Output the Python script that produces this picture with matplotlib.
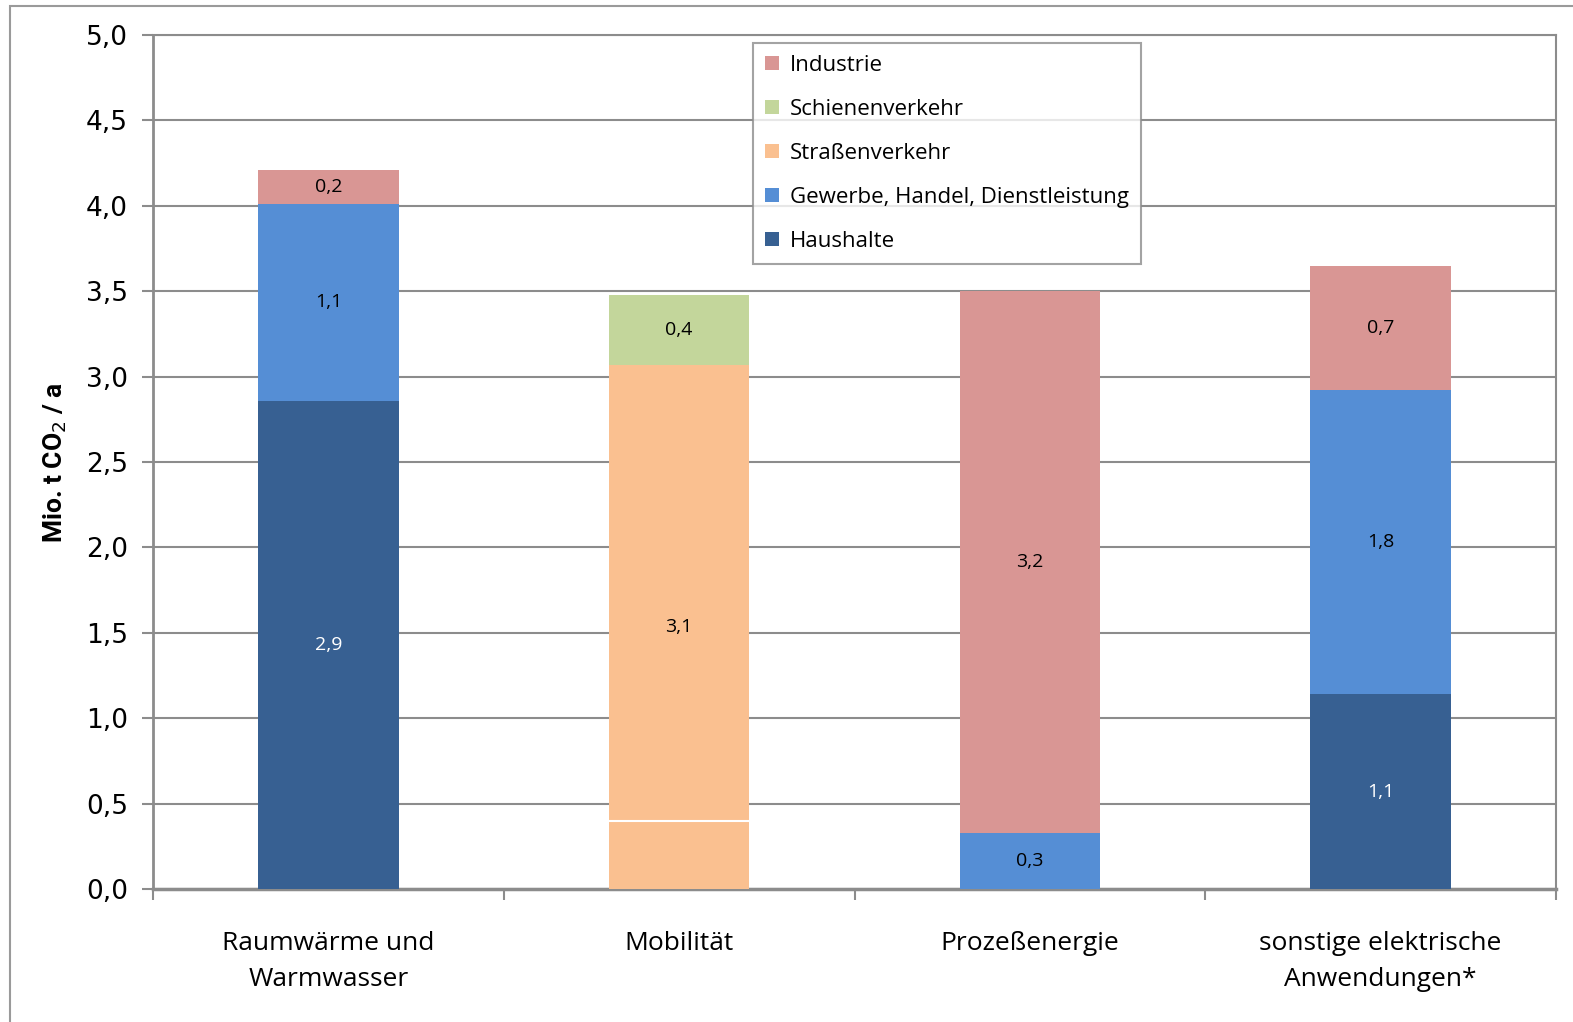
import numpy as np
import matplotlib.pyplot as plt
from matplotlib.patches import Rectangle

categories = ["Raumwärme und\nWarmwasser", "Mobilität", "Prozeßenergie",
              "sonstige elektrische\nAnwendungen*"]
sectors = ["Haushalte", "Gewerbe, Handel, Dienstleistung", "Straßenverkehr",
           "Schienenverkehr", "Industrie"]
haushalte = [2.86, 0.0, 0.0, 1.14]
gewerbe = [1.15, 0.0, 0.33, 1.78]
strasse_unten = [0.0, 0.40, 0.0, 0.0]
strasse_oben = [0.0, 2.67, 0.0, 0.0]
schiene = [0.0, 0.41, 0.0, 0.0]
industrie = [0.20, 0.0, 3.17, 0.73]
yticks = [0.0, 0.5, 1.0, 1.5, 2.0, 2.5, 3.0, 3.5, 4.0, 4.5, 5.0]

colors = {"Haushalte": "#376092", "Gewerbe, Handel, Dienstleistung": "#558ed5",
          "Straßenverkehr": "#fac090", "Schienenverkehr": "#c3d69b",
          "Industrie": "#d99694"}

txt_font = ["Open Sans", "DejaVu Sans"]
plt.rcParams['font.family'] = txt_font

fig = plt.figure(figsize=(15.73, 10.22), dpi=100)
ax = fig.add_axes([153 / 1573, 1 - 889 / 1022, 1403 / 1573, 854 / 1022])

# outer frame of the chart
fig.patches.append(Rectangle((10 / 1573, -0.1), 1.2, 1 - 6 / 1022 + 0.1,
                             transform=fig.transFigure, fill=False,
                             edgecolor="#9a9a9a", linewidth=1.5))

x = np.arange(len(categories))
w = 0.4
bottom = np.zeros(len(categories))
handles = {}


def fmt(v):
    return f"{v:.1f}".replace(".", ",")


def stack(vals, name, label=True, txtcolor="black"):
    global bottom
    vals = np.array(vals)
    bars = ax.bar(x, vals, w, bottom=bottom, color=colors[name], edgecolor="none",
                  zorder=3)
    handles[name] = bars
    if label:
        for i, v in enumerate(vals):
            if v > 0:
                ax.text(x[i], bottom[i] + v / 2, fmt(v), ha="center", va="center",
                        fontsize=14, color=txtcolor, zorder=4)
    bottom = bottom + vals


stack(haushalte, "Haushalte", txtcolor="white")
stack(gewerbe, "Gewerbe, Handel, Dienstleistung")
# Straßenverkehr in two parts, label shows the total
b0 = bottom.copy()
stack(strasse_unten, "Straßenverkehr", label=False)
for i, v in enumerate(strasse_unten):
    if v > 0:
        ax.plot([x[i] - w / 2, x[i] + w / 2], [bottom[i], bottom[i]], color="white",
                lw=1.5, zorder=3.5)
stack(strasse_oben, "Straßenverkehr", label=False)
tot = np.array(strasse_unten) + np.array(strasse_oben)
for i, v in enumerate(tot):
    if v > 0:
        ax.text(x[i], b0[i] + v / 2, fmt(v), ha="center", va="center",
                fontsize=14, zorder=4)
stack(schiene, "Schienenverkehr")
stack(industrie, "Industrie")

ax.set_xlim(-0.5, 3.5)
ax.set_ylim(0, 5)
ax.set_yticks(yticks)
ax.set_yticklabels([fmt(t) for t in yticks], family="DejaVu Sans", fontsize=19)
ax.yaxis.grid(True, color="#8c8c8c", linewidth=1.5, zorder=0)
ax.set_axisbelow(True)

ax.set_xticks(np.arange(-0.5, 3.6, 1.0))
ax.set_xticklabels([])
ax.set_xticks(x, minor=True)
ax.set_xticklabels(categories, minor=True, fontsize=19, linespacing=1.6)
ax.tick_params(axis="x", which="minor", length=0, pad=30)
ax.tick_params(axis="x", which="major", length=8, color="#8c8c8c", width=1.5)
ax.tick_params(axis="y", length=8, color="#8c8c8c", width=1.5, pad=10)

for s in ax.spines.values():
    s.set_color("#8c8c8c")
    s.set_linewidth(1.5)
ax.spines["left"].set_linewidth(2)
ax.spines["bottom"].set_linewidth(2.5)

ax.set_ylabel("Mio. t CO$_2$ / a", fontsize=19, fontweight="bold",
              family=["Roboto", "DejaVu Sans"], labelpad=12)

order = ["Industrie", "Schienenverkehr", "Straßenverkehr",
         "Gewerbe, Handel, Dienstleistung", "Haushalte"]
leg = ax.legend([handles[n] for n in order], order, loc="upper left",
                bbox_to_anchor=(0.4277, 0.9906), borderaxespad=0, frameon=True,
                fancybox=False, edgecolor="#8c8c8c", handlelength=0.6,
                handleheight=0.6, handletextpad=0.5, labelspacing=1.03,
                borderpad=0.55, prop={"size": 16})
leg.get_frame().set_linewidth(1.5)
leg.set_zorder(5)

fig.savefig("out.png", dpi=100)
